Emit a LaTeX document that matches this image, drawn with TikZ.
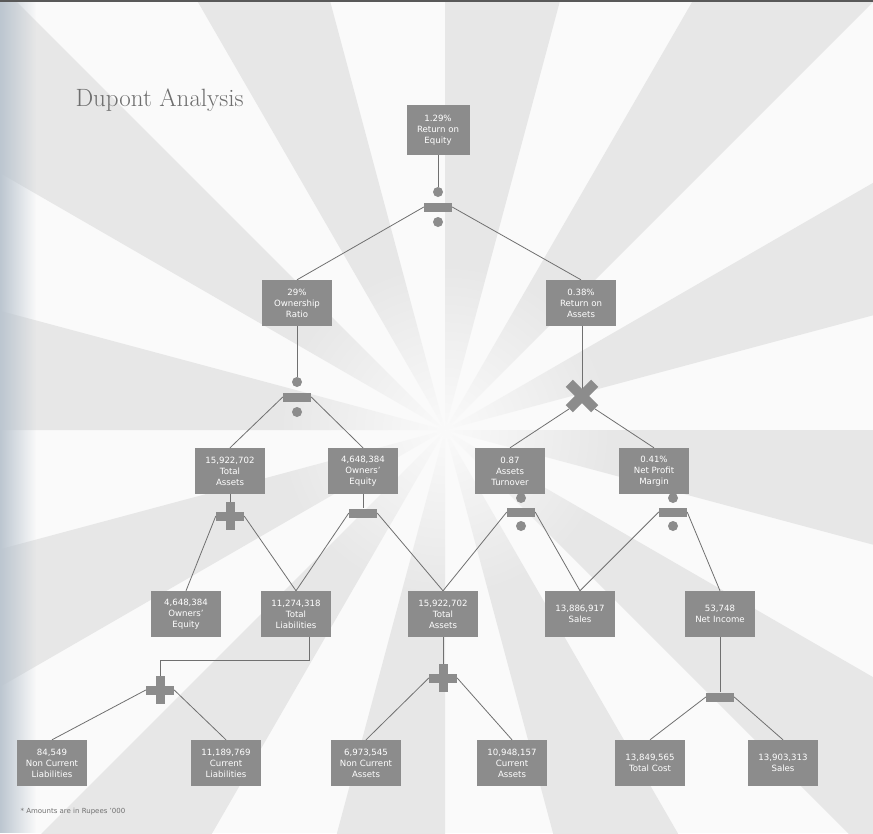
\documentclass[tikz,border=0pt]{standalone}
\usepackage{fontspec}
\setsansfont{DejaVu Sans}
\usetikzlibrary{fadings}

\definecolor{boxgray}{HTML}{8C8C8C}
\definecolor{linegray}{HTML}{707070}
\definecolor{raygray}{HTML}{E7E7E7}
\definecolor{raywhite}{HTML}{FAFAFA}
\definecolor{titlegray}{HTML}{6E6E6E}
\definecolor{edgeblue}{HTML}{BCC6D0}

\tikzfading[name=centreglow, inner color=transparent!0, outer color=transparent!100]

\pgfdeclarelayer{backdrop}
\pgfdeclarelayer{wires}
\pgfsetlayers{backdrop,wires,main}

\begin{document}
\begin{tikzpicture}[x=1pt,y=-1pt,
  valbox/.style={fill=boxgray, text=white, align=center, inner sep=0pt,
    font=\sffamily\fontsize{8.6}{11}\selectfont,
    minimum width=70pt, minimum height=46pt},
  conn/.style={draw=linegray, line width=0.8pt},
  opbar/.style={fill=boxgray, inner sep=0pt, minimum width=28pt, minimum height=9pt},
  opvbar/.style={fill=boxgray, inner sep=0pt, minimum width=9pt, minimum height=28pt},
  opdot/.style={circle, fill=boxgray, inner sep=0pt, minimum size=10pt},
]
\useasboundingbox (0,0) rectangle (873,833);

% sunburst background
\begin{pgfonlayer}{backdrop}
\fill[raywhite] (0,0) rectangle (873,833);
\begin{scope}
  \clip (0,0) rectangle (873,833);
  \foreach \a in {0,30,...,330}
    \fill[raygray] (445,430) -- +(\a:1400) -- +(\a+15:1400) -- cycle;
  \fill[raywhite, path fading=centreglow] (445,430) circle (170);
  \fill[edgeblue, path fading=east] (0,0) rectangle (36,833);
\end{scope}
\fill[black!65] (0,0) rectangle (873,2);
\end{pgfonlayer}

% title and footnote
\node[anchor=west, text=titlegray, font=\fontsize{25}{30}\selectfont] (title) at (72,100) {Dupont Analysis};
\node[anchor=west, text=linegray, font=\sffamily\fontsize{7}{8}\selectfont] (note) at (17,812) {* Amounts are in Rupees '000};

% value boxes
\node[valbox, minimum width=63pt, minimum height=50pt] (roe) at (438,130) {1.29\%\\Return on\\Equity};
\node[valbox] (own) at (297,303) {29\%\\Ownership\\Ratio};
\node[valbox] (roa) at (581,303) {0.38\%\\Return on\\Assets};
\node[valbox] (ta1) at (230,471) {15,922,702\\Total\\Assets};
\node[valbox] (oe1) at (363,471) {4,648,384\\Owners'\\Equity};
\node[valbox] (at)  at (510,471) {0.87\\Assets\\Turnover};
\node[valbox] (npm) at (654,471) {0.41\%\\Net Profit\\Margin};
\node[valbox] (oe2) at (186,614) {4,648,384\\Owners'\\Equity};
\node[valbox] (tl)  at (296,614) {11,274,318\\Total\\Liabilities};
\node[valbox] (ta2) at (443,614) {15,922,702\\Total\\Assets};
\node[valbox] (sl1) at (580,614) {13,886,917\\Sales};
\node[valbox] (ni)  at (720,614) {53,748\\Net Income};
\node[valbox] (ncl) at (52,763)  {84,549\\Non Current\\Liabilities};
\node[valbox] (cl)  at (226,763) {11,189,769\\Current\\Liabilities};
\node[valbox] (nca) at (366,763) {6,973,545\\Non Current\\Assets};
\node[valbox] (ca)  at (512,763) {10,948,157\\Current\\Assets};
\node[valbox] (tc)  at (650,763) {13,849,565\\Total Cost};
\node[valbox] (sl2) at (783,763) {13,903,313\\Sales};

% operators
% divide: return on equity
\node[opbar] (d1) at (438,207) {};
\node[opdot] (d1a) at (438,192) {};
\node[opdot] (d1b) at (438,222) {};
% divide: ownership ratio
\node[opbar] (d2) at (297,397) {};
\node[opdot] (d2a) at (297,382) {};
\node[opdot] (d2b) at (297,412) {};
% multiply: return on assets
\node[opbar, minimum width=36pt, minimum height=10pt, rotate=45] (m3a) at (582,396) {};
\node[opbar, minimum width=36pt, minimum height=10pt, rotate=-45] (m3b) at (582,396) {};
% plus: total assets
\node[opbar] (p4) at (230,516) {};
\node[opvbar] (p4v) at (230,516) {};
% minus: owners' equity
\node[opbar] (s5) at (363,513) {};
% divide: assets turnover
\node[opbar] (d6) at (521,512) {};
\node[opdot] (d6a) at (521,498) {};
\node[opdot] (d6b) at (521,526) {};
% divide: net profit margin
\node[opbar] (d7) at (673,512) {};
\node[opdot] (d7a) at (673,498) {};
\node[opdot] (d7b) at (673,526) {};
% plus: total liabilities
\node[opbar] (p8) at (160,690) {};
\node[opvbar] (p8v) at (160,690) {};
% plus: total assets (second level)
\node[opbar] (p9) at (443,678) {};
\node[opvbar] (p9v) at (443,678) {};
% minus: net income
\node[opbar] (s10) at (720,697) {};

% connectors, kept beneath the boxes and operator glyphs
\begin{pgfonlayer}{wires}
\draw[conn] (roe.south) -- (d1a);
\draw[conn] (d1.west) -- (own.north);
\draw[conn] (d1.east) -- (roa.north);

\draw[conn] (own.south) -- (d2a);
\draw[conn] (d2.west) -- (ta1.north);
\draw[conn] (d2.east) -- (oe1.north);

\draw[conn] (roa.south -| m3a) -- (m3a.center);
\draw[conn] (m3a.west) -- (at.north);
\draw[conn] (m3b.east) -- (npm.north);

\draw[conn] (ta1.south) -- (p4v.north);
\draw[conn] (p4.west) -- (oe2.north);
\draw[conn] (p4.east) -- (tl.north);

\draw[conn] (oe1.south) -- (s5.north);
\draw[conn] (s5.west) -- (tl.north);
\draw[conn] (s5.east) -- (ta2.north);

\draw[conn] (at.south -| d6a) -- (d6a);
\draw[conn] (d6.west) -- (ta2.north);
\draw[conn] (d6.east) -- (sl1.north);

\draw[conn] (npm.south -| d7a) -- (d7a);
\draw[conn] (d7.west) -- (sl1.north);
\draw[conn] (d7.east) -- (ni.north);

\coordinate (tlk) at (309,660);
\draw[conn] (tl.south -| tlk) -- (tlk) -- (tlk -| p8v) -- (p8v.north);
\draw[conn] (p8.west) -- (ncl.north);
\draw[conn] (p8.east) -- (cl.north);

\draw[conn] (ta2.south) -- (p9v.north);
\draw[conn] (p9.west) -- (nca.north);
\draw[conn] (p9.east) -- (ca.north);

\draw[conn] (ni.south) -- (s10.north);
\draw[conn] (s10.west) -- (tc.north);
\draw[conn] (s10.east) -- (sl2.north);
\end{pgfonlayer}
\end{tikzpicture}
\end{document}
